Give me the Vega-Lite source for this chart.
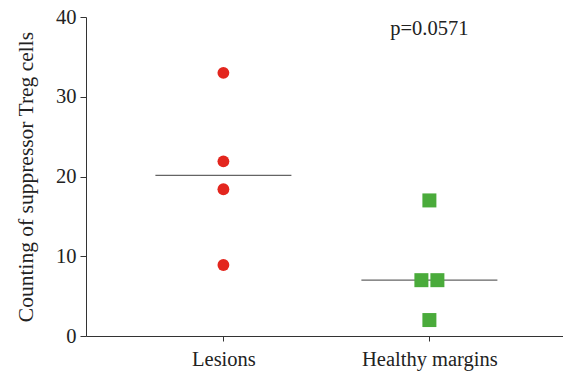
{
  "$schema": "https://vega.github.io/schema/vega-lite/v6.json",
  "width": 477,
  "height": 319,
  "autosize": {"type": "none"},
  "padding": {"left": 86, "top": 17, "right": 0, "bottom": 43},
  "background": "white",
  "config": {
    "view": {"stroke": null},
    "font": "Liberation Serif",
    "axis": {"grid": false, "domainColor": "#333333", "tickColor": "#333333", "labelColor": "#222222", "titleColor": "#222222", "labelFont": "Liberation Serif", "titleFont": "Liberation Serif", "titleFontWeight": "normal"}
  },
  "datasets": {
    "points": [
      {"group": "Lesions", "value": 33.0, "jitter": 0},
      {"group": "Lesions", "value": 21.9, "jitter": 0},
      {"group": "Lesions", "value": 18.4, "jitter": 0},
      {"group": "Lesions", "value": 8.9, "jitter": 0},
      {"group": "Healthy margins", "value": 17.0, "jitter": 0},
      {"group": "Healthy margins", "value": 7.0, "jitter": -1},
      {"group": "Healthy margins", "value": 7.0, "jitter": 1},
      {"group": "Healthy margins", "value": 2.0, "jitter": 0}
    ],
    "medians": [
      {"group": "Lesions", "value": 20.15},
      {"group": "Healthy margins", "value": 7.0}
    ],
    "annot": [
      {"group": "Healthy margins", "value": 38.5, "label": "p=0.0571"}
    ]
  },
  "encoding": {
    "x": {
      "field": "group", "type": "nominal",
      "sort": ["Lesions", "Healthy margins"],
      "scale": {"type": "point", "domain": ["Lesions", "Healthy margins"], "padding": 0.6578, "align": 0.507},
      "axis": {"title": null, "labelAngle": 0, "labelFontSize": 20.5, "tickSize": 5, "labelPadding": 8, "domainWidth": 1}
    },
    "y": {
      "field": "value", "type": "quantitative",
      "scale": {"domain": [0, 40], "nice": false},
      "axis": {"title": "Counting of suppressor Treg cells", "values": [0, 10, 20, 30, 40], "labelFontSize": 20.5, "titleFontSize": 21.5, "tickSize": 6, "labelPadding": 4, "titlePadding": 18}
    }
  },
  "layer": [
    {
      "data": {"name": "medians"},
      "mark": {"type": "tick", "orient": "horizontal", "size": 136, "thickness": 1.3, "color": "#222222"}
    },
    {
      "data": {"name": "points"},
      "transform": [{"filter": "datum.group == 'Lesions'"}],
      "mark": {"type": "point", "shape": "circle", "filled": true, "size": 140, "color": "#e3261e", "opacity": 1}
    },
    {
      "data": {"name": "points"},
      "transform": [{"filter": "datum.group == 'Healthy margins'"}],
      "mark": {"type": "point", "shape": "square", "filled": true, "size": 196, "color": "#4aab3b", "opacity": 1},
      "encoding": {
        "xOffset": {"field": "jitter", "type": "quantitative", "scale": {"domain": [-1, 1], "range": [-8, 8]}}
      }
    },
    {
      "data": {"name": "annot"},
      "mark": {"type": "text", "fontSize": 20.5, "color": "#222222", "font": "Liberation Serif"},
      "encoding": {"text": {"field": "label"}}
    }
  ]
}
